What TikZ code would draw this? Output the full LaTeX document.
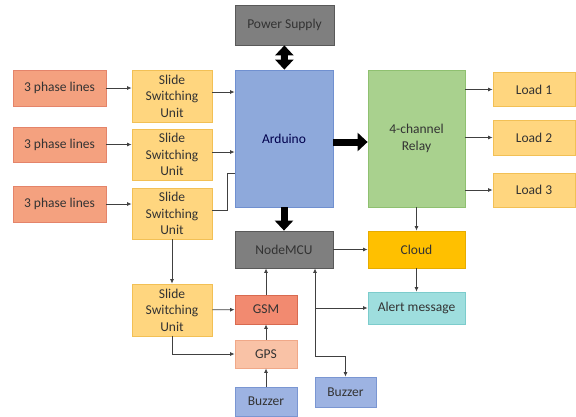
\documentclass[tikz,border=0pt]{standalone}
\usepackage{fontspec}
\setmainfont{Carlito}
\usetikzlibrary{arrows.meta}
\definecolor{phasefill}{HTML}{F4A17F}\definecolor{phaseline}{HTML}{E4846A}
\definecolor{ssufill}{HTML}{FFD67F}\definecolor{ssuline}{HTML}{F2C055}
\definecolor{ardfill}{HTML}{8EA9DB}\definecolor{ardline}{HTML}{7090D0}
\definecolor{relfill}{HTML}{A9D18E}\definecolor{relline}{HTML}{8FC070}
\definecolor{grayfill}{HTML}{7F7F7F}\definecolor{grayline}{HTML}{595959}
\definecolor{cloudfill}{HTML}{FFC000}\definecolor{cloudline}{HTML}{E6AC00}
\definecolor{alertfill}{HTML}{9EDEDE}\definecolor{alertline}{HTML}{7CCCCC}
\definecolor{gsmfill}{HTML}{F28A70}\definecolor{gsmline}{HTML}{D86A50}
\definecolor{gpsfill}{HTML}{F9C2A6}\definecolor{gpsline}{HTML}{F0A888}
\definecolor{buzfill}{HTML}{9DB3E2}\definecolor{buzline}{HTML}{7A96D2}
\definecolor{txt}{HTML}{333333}\definecolor{wire}{HTML}{404040}
\tikzset{
  blk/.style={draw, line width=0.8pt, align=center, inner sep=0pt, text=txt,
    font=\fontsize{13.5}{16.5}\selectfont},
  box/.style n args={4}{blk, fill=#1, draw=#2, minimum width=#3, minimum height=#4},
  wireto/.style={draw=wire, line width=0.8pt, -{Latex[length=4.5pt,width=4pt]}},
  fat/.style={line width=7pt, -{Triangle[length=10pt,width=18pt]}},
}
\begin{document}
\begin{tikzpicture}[x=1pt,y=-1pt]
  \useasboundingbox (0,0) rectangle (576,416);
  %%%%% BOXES %%%%%
  \node[box={grayfill}{grayline}{99pt}{40pt}] (ps) at (284.5,25) {Power Supply};
  \node[box={ardfill}{ardline}{98pt}{137pt}, text=blue!30!black] (ard) at (284,138.5) {Arduino};
  \node[box={relfill}{relline}{97pt}{137pt}] (relay) at (416.5,138.5) {4-channel\\Relay};
  \node[box={ssufill}{ssuline}{82pt}{34pt}] (load1) at (534,89.5) {Load 1};
  \node[box={ssufill}{ssuline}{82pt}{35pt}] (load2) at (534,137.5) {Load 2};
  \node[box={ssufill}{ssuline}{82pt}{34pt}] (load3) at (534,190) {Load 3};

  \node[box={phasefill}{phaseline}{93pt}{36pt}] (ph1) at (59.5,88) {3 phase lines};
  \node[box={phasefill}{phaseline}{93pt}{35pt}] (ph2) at (59.5,144.5) {3 phase lines};
  \node[box={phasefill}{phaseline}{93pt}{36pt}] (ph3) at (59.5,204) {3 phase lines};
  \node[box={ssufill}{ssuline}{80pt}{52pt}] (ssu1) at (172,96) {Slide\\Switching\\Unit};
  \node[box={ssufill}{ssuline}{80pt}{51pt}] (ssu2) at (172,154.5) {Slide\\Switching\\Unit};
  \node[box={ssufill}{ssuline}{80pt}{51pt}] (ssu3) at (172,213.5) {Slide\\Switching\\Unit};
  \node[box={ssufill}{ssuline}{80pt}{52pt}] (ssu4) at (172,310) {Slide\\Switching\\Unit};

  \node[box={grayfill}{grayline}{98pt}{37pt}] (mcu) at (284,249.5) {NodeMCU};
  \node[box={cloudfill}{cloudline}{97pt}{37pt}] (cloud) at (416.5,249.5) {Cloud};
  \node[box={alertfill}{alertline}{97pt}{32pt}] (alert) at (416.5,308) {Alert message};
  \node[box={gsmfill}{gsmline}{62pt}{29pt}] (gsm) at (266,309.5) {GSM};
  \node[box={gpsfill}{gpsline}{62pt}{28pt}] (gps) at (266,354) {GPS};
  \node[box={buzfill}{buzline}{62pt}{29pt}] (buz1) at (266,401.5) {Buzzer};
  \node[box={buzfill}{buzline}{61pt}{30pt}] (buz2) at (345.5,392) {Buzzer};

  %%%%% THICK ARROWS %%%%%
  \draw[fat, {Triangle[length=10pt,width=18pt]}-{Triangle[length=10pt,width=18pt]}] (ps) -- (ard);
  \coordinate (ao) at ([yshift=-3.5pt]ard.east);
  \draw[fat] (ao) -- (ao -| relay.west);
  \draw[fat] (ard) -- (mcu);

  %%%%% THIN ARROWS %%%%%
  \draw[wireto] (ph1) -- (ph1 -| ssu1.west);
  \draw[wireto] (ph2) -- (ph2 -| ssu2.west);
  \draw[wireto] (ph3) -- (ph3 -| ssu3.west);
  \coordinate (s1o) at ([yshift=4pt]ssu1.east);
  \coordinate (s2o) at ([yshift=2.5pt]ssu2.east);
  \coordinate (s3o) at ([yshift=3.5pt]ssu3.east);
  \coordinate (j3) at ([yshift=-34.5pt]ard.west);
  \draw[wireto] (s1o) -- (s1o -| ard.west);
  \draw[wireto] (s2o) -- (s2o -| ard.west);
  \draw[draw=wire, line width=0.8pt] (s3o) -- ++(15,0) |- (j3);
  \draw[wireto] (ssu3) -- (ssu4);
  \draw[wireto] (ssu4) -- (gsm);
  \draw[wireto] (ssu4.south) |- (gps.west);
  \draw[wireto] (buz1) -- (gps);
  \draw[wireto] (gps) -- (gsm);
  \draw[wireto] (gsm.north) -- (gsm.north |- mcu.south);

  \draw[wireto] (load1.west -| relay.east) -- (load1.west);
  \draw[wireto] (load2.west -| relay.east) -- (load2.west);
  \draw[wireto] (load3.west -| relay.east) -- (load3.west);
  \draw[wireto] (relay) -- (cloud);
  \draw[wireto] (mcu) -- (cloud);
  \draw[wireto] (cloud) -- (alert);

  \coordinate (nb) at ([xshift=31pt]mcu.south);
  \draw[wireto, {Latex[length=4.5pt,width=4pt]}-{Latex[length=4.5pt,width=4pt]}] (nb) -- ++(0,88) -| (buz2.north);
  \draw[wireto] (nb |- alert.west) -- (alert.west);
\end{tikzpicture}
\end{document}
